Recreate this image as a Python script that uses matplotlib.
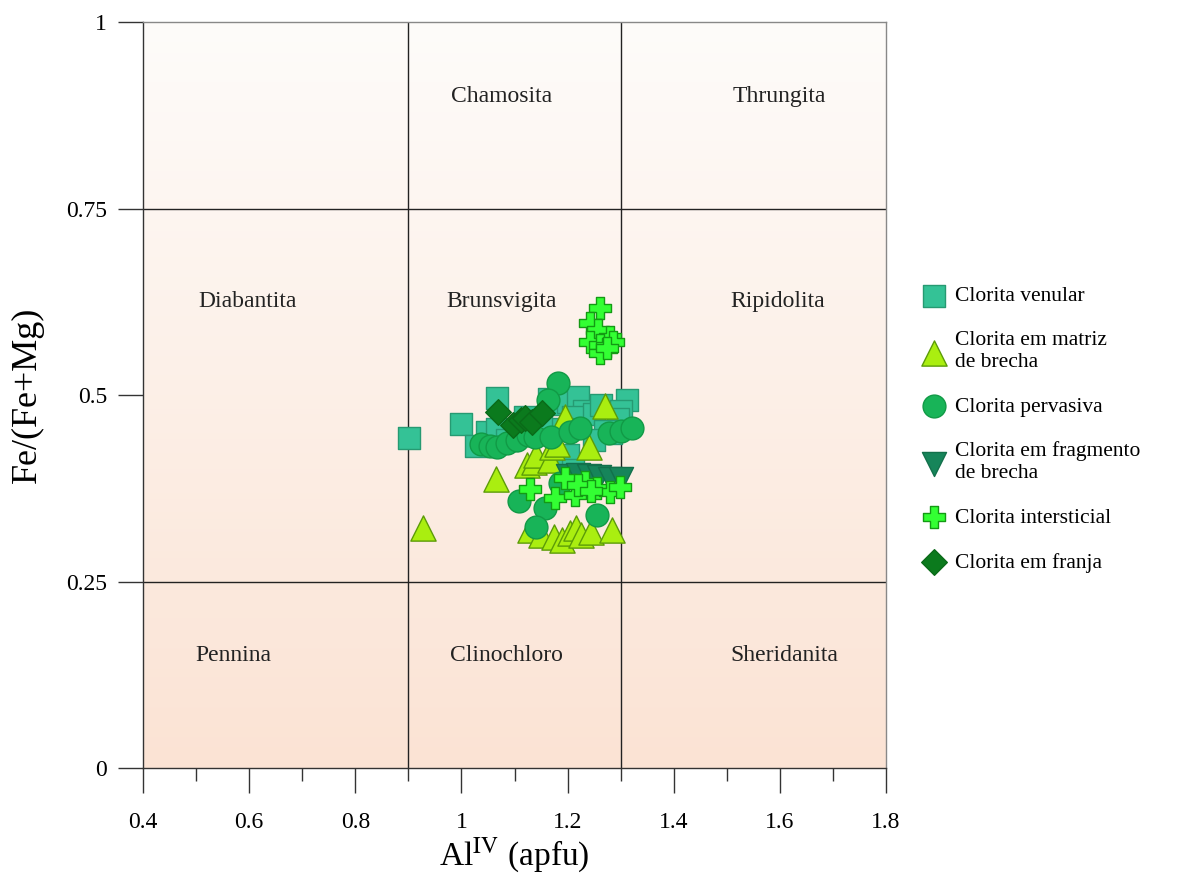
import numpy as np
import matplotlib
matplotlib.use("Agg")
import matplotlib.pyplot as plt
from matplotlib.colors import LinearSegmentedColormap
from matplotlib.ticker import MultipleLocator, FuncFormatter

plt.rcParams.update(
    {
        "font.family": ["Liberation Serif", "DejaVu Serif"],
        "mathtext.fontset": "stix",
    }
)

# chlorite analyses: Al(IV) apfu vs Fe/(Fe+Mg)
venular_x = [0.901, 1.000, 1.067, 1.027, 1.048, 1.067, 1.085, 1.120, 1.165, 1.180, 1.200,
             1.220, 1.230, 1.210, 1.250, 1.262, 1.312, 1.300, 1.295, 1.282, 1.270, 1.250,
             1.200, 1.210, 1.190, 1.150]
venular_y = [0.442, 0.461, 0.496, 0.432, 0.450, 0.455, 0.440, 0.470, 0.495, 0.488, 0.490,
             0.497, 0.478, 0.470, 0.475, 0.487, 0.493, 0.478, 0.468, 0.449, 0.452, 0.440,
             0.420, 0.400, 0.455, 0.465]

matriz_x = [0.928, 1.065, 1.123, 1.137, 1.140, 1.167, 1.170, 1.180, 1.195, 1.240, 1.270,
            1.130, 1.150, 1.175, 1.190, 1.205, 1.215, 1.225, 1.245, 1.284]
matriz_y = [0.322, 0.387, 0.406, 0.410, 0.420, 0.413, 0.430, 0.435, 0.470, 0.430, 0.485,
            0.319, 0.312, 0.310, 0.306, 0.315, 0.322, 0.312, 0.316, 0.319]

pervasiva_x = [1.182, 1.163, 1.037, 1.053, 1.067, 1.085, 1.105, 1.125, 1.139, 1.169, 1.205,
               1.223, 1.278, 1.300, 1.321, 1.186, 1.108, 1.157, 1.140, 1.255]
pervasiva_y = [0.516, 0.493, 0.434, 0.432, 0.430, 0.436, 0.440, 0.446, 0.444, 0.444, 0.450,
               0.456, 0.449, 0.452, 0.456, 0.382, 0.358, 0.348, 0.323, 0.339]

fragmento_x = [1.200, 1.220, 1.240, 1.260, 1.280, 1.300]
fragmento_y = [0.392, 0.393, 0.392, 0.390, 0.388, 0.387]

intersticial_x = [1.261, 1.242, 1.257, 1.280, 1.242, 1.261, 1.286, 1.261, 1.274,
                  1.129, 1.176, 1.195, 1.214, 1.233, 1.255, 1.280, 1.299, 1.220, 1.245]
intersticial_y = [0.617, 0.597, 0.587, 0.578, 0.571, 0.567, 0.571, 0.556, 0.563,
                  0.374, 0.362, 0.389, 0.366, 0.383, 0.375, 0.370, 0.377, 0.380, 0.372]

franja_x = [1.069, 1.097, 1.112, 1.120, 1.133, 1.152]
franja_y = [0.477, 0.460, 0.466, 0.469, 0.464, 0.476]

# classification fields
field_names = ["Chamosita", "Thrungita", "Diabantita", "Brunsvigita", "Ripidolita",
               "Pennina", "Clinochloro", "Sheridanita"]
field_x = [1.075, 1.598, 0.596, 1.076, 1.595, 0.571, 1.084, 1.608]
field_y = [0.90, 0.90, 0.626, 0.626, 0.626, 0.151, 0.151, 0.151]
x_bounds = [0.9, 1.3]
y_bounds = [0.25, 0.75]

fig = plt.figure(figsize=(11.85, 8.84), dpi=100)
ax = fig.add_axes([0.1207, 0.1312, 0.627, 0.8439])
ax.set_xlim(0.4, 1.8)
ax.set_ylim(0, 1)

# soft vertical background gradient
bg = LinearSegmentedColormap.from_list("bg", ["#fbe3d4", "#fefcfa"])
grad = np.linspace(0, 1, 256).reshape(-1, 1)
ax.imshow(grad, cmap=bg, aspect="auto", extent=[0.4, 1.8, 0, 1],
          origin="lower", zorder=0)

for xb in x_bounds:
    ax.plot([xb, xb], [0, 1], color="#222222", lw=1.0, zorder=1)
for yb in y_bounds:
    ax.plot([0.4, 1.8], [yb, yb], color="#222222", lw=1.0, zorder=1)

for name, fx, fy in zip(field_names, field_x, field_y):
    ax.text(fx, fy, name, ha="center", va="center", fontsize=17, color="#222222", zorder=2)

ax.scatter(venular_x, venular_y, marker="s", s=260, color="#34c296",
           edgecolor="#269a72", lw=1.0, zorder=3, label="Clorita venular")
ax.scatter(matriz_x, matriz_y, marker="^", s=330, color="#aaee10",
           edgecolor="#5c9c08", lw=1.0, zorder=4, label="Clorita em matriz\nde brecha")
ax.scatter(pervasiva_x, pervasiva_y, marker="o", s=270, color="#18b458",
           edgecolor="#119a46", lw=1.0, zorder=5, label="Clorita pervasiva")
ax.scatter(fragmento_x, fragmento_y, marker="v", s=300, color="#16855a",
           edgecolor="#12704b", lw=1.0, zorder=6, label="Clorita em fragmento\nde brecha")
ax.scatter(intersticial_x, intersticial_y, marker="P", s=260, color="#33ff33",
           edgecolor="#149a14", lw=1.0, zorder=7, label="Clorita intersticial")
ax.scatter(franja_x, franja_y, marker="D", s=170, color="#0b7a1d",
           edgecolor="#0a6a18", lw=1.0, zorder=8, label="Clorita em franja")

# axes and ticks
for side in ["left", "bottom"]:
    ax.spines[side].set_color("#333333")
for side in ["top", "right"]:
    ax.spines[side].set_color("#888888")
for sp in ax.spines.values():
    sp.set_linewidth(1.0)

ax.xaxis.set_major_locator(MultipleLocator(0.2))
ax.xaxis.set_minor_locator(MultipleLocator(0.1))
ax.yaxis.set_major_locator(MultipleLocator(0.25))
fmt = FuncFormatter(lambda v, p: f"{v:g}")
ax.xaxis.set_major_formatter(fmt)
ax.yaxis.set_major_formatter(fmt)
ax.tick_params(axis="x", which="major", direction="out", length=18, width=1.0,
               color="#333333", labelsize=17, pad=14)
ax.tick_params(axis="x", which="minor", direction="out", length=9, width=1.0,
               color="#333333")
ax.tick_params(axis="y", which="major", direction="out", length=18, width=1.0,
               color="#333333", labelsize=17, pad=8)

ax.set_xlabel(r"Al$^{\mathrm{IV}}$ (apfu)", fontsize=24, labelpad=2)
ax.set_ylabel("Fe/(Fe+Mg)", fontsize=26, labelpad=16)

fig.legend(loc="upper left", bbox_to_anchor=(0.761, 0.698), frameon=False,
           fontsize=15.5, handlelength=1.2, handletextpad=0.35, labelspacing=1.15,
           scatterpoints=1, markerscale=1.0)

fig.savefig("out.png", dpi=100)
